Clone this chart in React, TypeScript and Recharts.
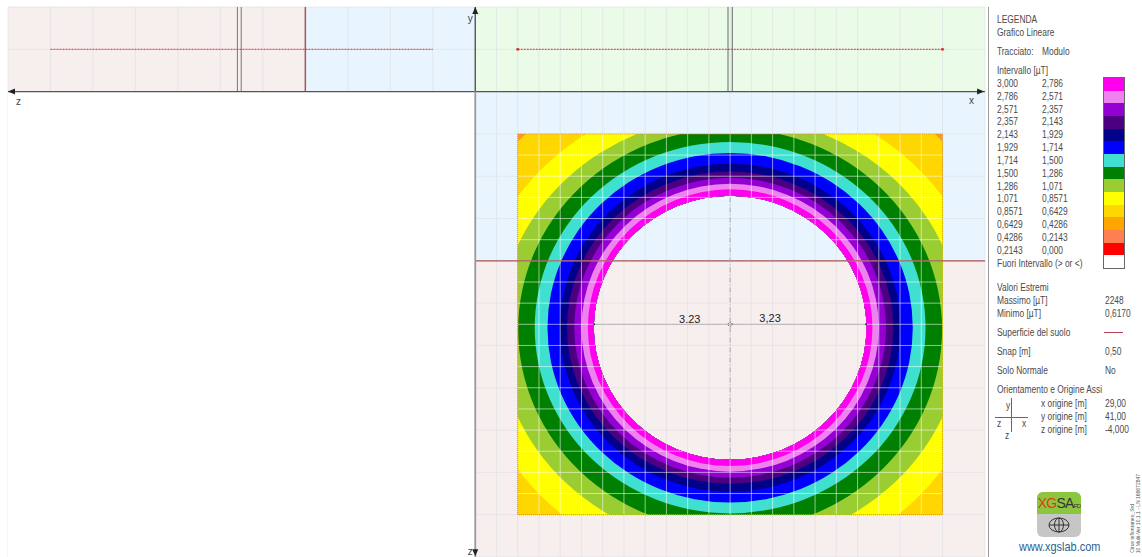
import React from 'react';
import {
  ComposedChart,
  CartesianGrid,
  Line,
  ReferenceArea,
  ReferenceDot,
  ReferenceLine,
  Scatter,
  XAxis,
  YAxis
} from 'recharts';

const CHART_W = 1142;
const CHART_H = 557;
const MARGIN = { top: 7, right: 157, bottom: 0, left: 8 };
const X_DOMAIN = [-11, 12];
const Y_DOMAIN = [-11, 2];
const PX_X = (CHART_W - MARGIN.left - MARGIN.right) / (X_DOMAIN[1] - X_DOMAIN[0]);
const PX_Y = (CHART_H - MARGIN.top - MARGIN.bottom) / (Y_DOMAIN[1] - Y_DOMAIN[0]);

// legend table, top to bottom
const rangeFrom = ['3,000', '2,786', '2,571', '2,357', '2,143', '1,929', '1,714', '1,500', '1,286', '1,071', '0,8571', '0,6429', '0,4286', '0,2143'];
const rangeTo = ['2,786', '2,571', '2,357', '2,143', '1,929', '1,714', '1,500', '1,286', '1,071', '0,8571', '0,6429', '0,4286', '0,2143', '0,000'];
const legendColors = ['#ff00ee', '#ee82ee', '#9400d3', '#4b0082', '#00008b', '#0000ff', '#40e0d0', '#008000', '#9acd32', '#ffff00', '#ffd700', '#ffa500', '#ff7f50', '#ff0000', '#ffffff'];

// contour bands (metres), same order as the legend
const bandColors = ['#ff00ee', '#ee82ee', '#9400d3', '#4b0082', '#00008b', '#0000ff', '#40e0d0', '#008000', '#9acd32', '#ffff00', '#ffd700', '#ff9a1a'];
const bandRx = [3.35, 3.5, 3.67, 3.84, 4.01, 4.3, 4.6, 4.99, 5.45, 6.08, 6.9, 7.6];
const bandRy = [3.27, 3.4, 3.54, 3.69, 3.88, 4.13, 4.39, 4.75, 5.09, 5.66, 6.55, 7.2];
const bandCy = [-5.58, -5.58, -5.58, -5.58, -5.58, -5.58, -5.58, -5.62, -5.66, -5.7, -5.7, -5.7];
const HOLE = { rx: 3.21, ry: 3.12, cy: -5.58 };
const CENTER_X = 6;

const gridArea = { x1: 1, x2: 11, y1: -10, y2: -1 };
const xTicks = [-11, -10.5, -10, -9.5, -9, -8.5, -8, -7.5, -7, -6.5, -6, -5.5, -5, -4.5, -4, -3.5, -3, -2.5, -2, -1.5, -1, -0.5, 0, 0.5, 1, 1.5, 2, 2.5, 3, 3.5, 4, 4.5, 5, 5.5, 6, 6.5, 7, 7.5, 8, 8.5, 9, 9.5, 10, 10.5, 11, 11.5, 12];
const yTicks = [-11, -10.5, -10, -9.5, -9, -8.5, -8, -7.5, -7, -6.5, -6, -5.5, -5, -4.5, -4, -3.5, -3, -2.5, -2, -1.5, -1, -0.5, 0, 0.5, 1, 1.5, 2];

const sectionLeft = [{ x: -10, y: 1 }, { x: -1, y: 1 }];
const sectionRight = [{ x: 1, y: 1 }, { x: 11, y: 1 }];

const px = (x: number) => MARGIN.left + (x - X_DOMAIN[0]) * PX_X;
const py = (y: number) => MARGIN.top + (Y_DOMAIN[1] - y) * PX_Y;

const ellipsePath = (cx: number, cy: number, rx: number, ry: number) =>
  `M${cx - rx},${cy}A${rx},${ry} 0 1 0 ${cx + rx},${cy}A${rx},${ry} 0 1 0 ${cx - rx},${cy}Z`;

const BandShape = (props: any) => {
  const { cx, cy, payload } = props;
  const holeCy = cy + (payload.y - HOLE.cy) * PX_Y;
  const d =
    ellipsePath(cx, cy, payload.rx * PX_X, payload.ry * PX_Y) +
    ellipsePath(cx, holeCy, HOLE.rx * PX_X, HOLE.ry * PX_Y);
  return <path d={d} fill={payload.color} fillRule="evenodd" clipPath="url(#contourClip)" />;
};

// white grid only over the coloured part, the hole keeps the plain grid
const RingGridLine = (props: any) => {
  const { x1, y1, x2, y2 } = props;
  return <line x1={x1} y1={y1} x2={x2} y2={y2} stroke="#fff" strokeOpacity={0.55} clipPath="url(#ringClip)" />;
};

const Arrow = (dir: 'left' | 'right' | 'up' | 'down') => (props: any) => {
  const { cx, cy } = props;
  const pts = {
    left: `${cx},${cy} ${cx + 7},${cy - 3} ${cx + 7},${cy + 3}`,
    right: `${cx},${cy} ${cx - 7},${cy - 3} ${cx - 7},${cy + 3}`,
    up: `${cx},${cy} ${cx - 3},${cy + 7} ${cx + 3},${cy + 7}`,
    down: `${cx},${cy} ${cx - 3},${cy - 7} ${cx + 3},${cy - 7}`
  }[dir];
  return <polygon points={pts} fill="#222" />;
};

const TextMark = (text: string, size = 10, color = '#444') => (props: any) => (
  <text x={props.cx} y={props.cy} textAnchor="middle" dominantBaseline="central" fontSize={size} fill={color} fontFamily="'Liberation Sans', sans-serif">
    {text}
  </text>
);

const Txt = ({ x, y, children, size = 10, color = '#4a4a4a' }: any) => (
  <div style={{ position: 'absolute', left: x, top: y - 7, fontSize: size, lineHeight: '14px', color, whiteSpace: 'nowrap', transform: 'scaleX(0.84)', transformOrigin: 'left center' }}>
    {children}
  </div>
);

const Logo = () => (
  <div style={{ position: 'absolute', left: 1037, top: 492, width: 44, height: 45, borderRadius: 6, overflow: 'hidden', background: '#c6c6c6' }}>
    <div style={{ height: 22, background: '#8cc63f', fontSize: 14, lineHeight: '23px', textAlign: 'center', color: '#333', whiteSpace: 'nowrap', letterSpacing: -0.7 }}>
      <span style={{ color: '#e03a1e' }}>XG</span>SA<span style={{ fontSize: 6 }}>FD</span>
    </div>
    <svg width={44} height={23} style={{ display: 'block' }}>
      <ellipse cx={22} cy={11} rx={10} ry={7} fill="none" stroke="#333" strokeWidth={1} />
      <ellipse cx={22} cy={11} rx={4.5} ry={7} fill="none" stroke="#333" strokeWidth={1} />
      <line x1={12} y1={11} x2={32} y2={11} stroke="#333" />
      <line x1={22} y1={4} x2={22} y2={18} stroke="#333" />
    </svg>
  </div>
);

const LegendPanel = () => (
  <div style={{ position: 'absolute', left: 0, top: 0, width: CHART_W, height: CHART_H, fontFamily: "'Liberation Sans', Arial, sans-serif", pointerEvents: 'none' }}>
    <div style={{ position: 'absolute', left: 988, top: 7, width: 1, height: 550, background: '#9a9a9a' }} />
    <Txt x={997} y={20}>LEGENDA</Txt>
    <Txt x={997} y={33}>Grafico Lineare</Txt>
    <Txt x={997} y={52}>Tracciato:</Txt>
    <Txt x={1042} y={52}>Modulo</Txt>
    <Txt x={997} y={71}>Intervallo [µT]</Txt>
    {rangeFrom.map((v, i) => (
      <React.Fragment key={v}>
        <Txt x={997} y={84 + i * 12.83}>{v}</Txt>
        <Txt x={1042} y={84 + i * 12.83}>{rangeTo[i]}</Txt>
      </React.Fragment>
    ))}
    <Txt x={997} y={264}>Fuori Intervallo (&gt; or &lt;)</Txt>
    <div style={{ position: 'absolute', left: 1103, top: 77, width: 20, border: '1px solid #666' }}>
      {legendColors.map((c, i) => (
        <div key={i} style={{ height: 12.67, background: c }} />
      ))}
    </div>

    <Txt x={997} y={288}>Valori Estremi</Txt>
    <Txt x={997} y={301}>Massimo [µT]</Txt>
    <Txt x={1105} y={301}>2248</Txt>
    <Txt x={997} y={314}>Minimo [µT]</Txt>
    <Txt x={1105} y={314}>0,6170</Txt>
    <Txt x={997} y={332.5}>Superficie del suolo</Txt>
    <div style={{ position: 'absolute', left: 1104, top: 332, width: 19, height: 1, background: '#b5404f' }} />
    <Txt x={997} y={352}>Snap [m]</Txt>
    <Txt x={1105} y={352}>0,50</Txt>
    <Txt x={997} y={371}>Solo Normale</Txt>
    <Txt x={1105} y={371}>No</Txt>
    <Txt x={997} y={390}>Orientamento e Origine Assi</Txt>
    <Txt x={1041} y={404}>x origine [m]</Txt>
    <Txt x={1105} y={404}>29,00</Txt>
    <Txt x={1041} y={417}>y origine [m]</Txt>
    <Txt x={1105} y={417}>41,00</Txt>
    <Txt x={1041} y={430}>z origine [m]</Txt>
    <Txt x={1105} y={430}>-4,000</Txt>

    <div style={{ position: 'absolute', left: 995, top: 417, width: 33, height: 1, background: '#666' }} />
    <div style={{ position: 'absolute', left: 1011, top: 398, width: 1, height: 34, background: '#666' }} />
    <Txt x={1006} y={406}>y</Txt>
    <Txt x={997} y={424}>z</Txt>
    <Txt x={1022} y={424}>x</Txt>
    <Txt x={1005} y={436}>z</Txt>

    <Logo />
    <Txt x={1019} y={547} size={13} color="#2d5f8f">www.xgslab.com</Txt>
    <div style={{ position: 'absolute', left: 1129, bottom: 4, width: 6, fontSize: 5, lineHeight: '6px', color: '#555', writingMode: 'vertical-rl', transform: 'rotate(180deg)', whiteSpace: 'nowrap' }}>
      Cirus teflonraneo_Srd
    </div>
    <div style={{ position: 'absolute', left: 1135, bottom: 4, width: 6, fontSize: 5, lineHeight: '6px', color: '#555', writingMode: 'vertical-rl', transform: 'rotate(180deg)', whiteSpace: 'nowrap' }}>
      10 Multi-Ver 10.1.1 - LN 166672847
    </div>
  </div>
);

export default function App() {
  const ringCx = px(CENTER_X);
  const ringPath =
    `M${px(gridArea.x1)},${py(gridArea.y2)}H${px(gridArea.x2)}V${py(gridArea.y1)}H${px(gridArea.x1)}Z` +
    ellipsePath(ringCx, py(HOLE.cy), HOLE.rx * PX_X, HOLE.ry * PX_Y);

  return (
    <div style={{ position: 'absolute', left: 0, top: 0, width: CHART_W, height: CHART_H, overflow: 'hidden', background: '#fff' }}>
      <ComposedChart width={CHART_W} height={CHART_H} margin={MARGIN}>
        <defs>
          <clipPath id="contourClip">
            <rect x={px(gridArea.x1)} y={py(gridArea.y2)} width={(gridArea.x2 - gridArea.x1) * PX_X} height={(gridArea.y2 - gridArea.y1) * PX_Y} />
          </clipPath>
          <clipPath id="ringClip">
            <path d={ringPath} clipRule="evenodd" />
          </clipPath>
        </defs>
        <XAxis type="number" dataKey="x" domain={X_DOMAIN} ticks={xTicks} hide allowDataOverflow />
        <YAxis type="number" dataKey="y" domain={Y_DOMAIN} ticks={yTicks} hide allowDataOverflow />

        <ReferenceArea x1={-11} x2={-4} y1={0} y2={2} fill="#f7eeee" fillOpacity={1} stroke="none" zIndex={0} />
        <ReferenceArea x1={-4} x2={0} y1={0} y2={2} fill="#e8f5fe" fillOpacity={1} stroke="none" zIndex={0} />
        <ReferenceArea x1={0} x2={12} y1={0} y2={2} fill="#eafbe8" fillOpacity={1} stroke="none" zIndex={0} />
        <ReferenceArea x1={0} x2={12} y1={-4} y2={0} fill="#e8f5fe" fillOpacity={1} stroke="none" zIndex={0} />
        <ReferenceArea x1={0} x2={12} y1={-11} y2={-4} fill="#f7eeee" fillOpacity={1} stroke="none" zIndex={0} />
        <CartesianGrid stroke="#dde1e4" strokeOpacity={0.65} zIndex={1} />
        <ReferenceArea x1={-11} x2={0} y1={-11} y2={0} fill="#ffffff" fillOpacity={1} stroke="none" zIndex={2} />

        {bandColors.map((color, i) => i).reverse().map((i) => (
          <Scatter
            key={bandColors[i]}
            data={[{ x: CENTER_X, y: bandCy[i], rx: bandRx[i], ry: bandRy[i], color: bandColors[i] }]}
            shape={BandShape}
            isAnimationActive={false}
            zIndex={3}
          />
        ))}

        {xTicks.filter((t) => t > gridArea.x1 && t < gridArea.x2).map((t) => (
          <ReferenceLine key={`wx${t}`} segment={[{ x: t, y: gridArea.y1 }, { x: t, y: gridArea.y2 }]} shape={RingGridLine} zIndex={4} />
        ))}
        {yTicks.filter((t) => t > gridArea.y1 && t < gridArea.y2).map((t) => (
          <ReferenceLine key={`wy${t}`} segment={[{ x: gridArea.x1, y: t }, { x: gridArea.x2, y: t }]} shape={RingGridLine} zIndex={4} />
        ))}

        <ReferenceArea x1={gridArea.x1} x2={gridArea.x2} y1={gridArea.y1} y2={gridArea.y2} fill="none" stroke="#e2874a" strokeWidth={1} strokeDasharray="1 1" zIndex={5} />

        <ReferenceLine segment={[{ x: 0, y: -4 }, { x: 12, y: -4 }]} stroke="#a85656" strokeWidth={1.2} zIndex={6} />
        <ReferenceLine segment={[{ x: -4, y: 0 }, { x: -4, y: 2 }]} stroke="#a85656" strokeWidth={1.5} zIndex={6} />

        <ReferenceLine segment={[{ x: -5.6, y: 0 }, { x: -5.6, y: 2 }]} stroke="#777" zIndex={6} />
        <ReferenceLine segment={[{ x: -5.51, y: 0 }, { x: -5.51, y: 2 }]} stroke="#777" zIndex={6} />
        <ReferenceLine segment={[{ x: 5.95, y: 0 }, { x: 5.95, y: 2 }]} stroke="#666" zIndex={6} />
        <ReferenceLine segment={[{ x: 6.05, y: 0 }, { x: 6.05, y: 2 }]} stroke="#666" zIndex={6} />

        <Line data={sectionLeft} dataKey="y" stroke="#dc3030" strokeWidth={1} strokeDasharray="2 1" dot={{ r: 0 }} isAnimationActive={false} zIndex={7} />
        <Line data={sectionRight} dataKey="y" stroke="#dc3030" strokeWidth={1} strokeDasharray="2 1" dot={{ r: 1.5, fill: '#d23c3c', stroke: 'none' }} isAnimationActive={false} zIndex={7} />

        <ReferenceLine segment={[{ x: CENTER_X, y: -2.5 }, { x: CENTER_X, y: -8.7 }]} stroke="#aaa" strokeDasharray="5 2 1 2" zIndex={7} />
        <ReferenceLine segment={[{ x: CENTER_X - 3.23, y: -5.5 }, { x: CENTER_X + 3.23, y: -5.5 }]} stroke="#bdbdbd" strokeWidth={1.2} zIndex={7} />
        <ReferenceDot x={CENTER_X - 3.2} y={-5.5} r={1} fill="#333" stroke="none" zIndex={8} />
        <ReferenceDot x={CENTER_X + 3.2} y={-5.5} r={1} fill="#333" stroke="none" zIndex={8} />
        <ReferenceDot x={CENTER_X - 0.95} y={-5.38} r={0} shape={TextMark('3.23', 11, '#222')} zIndex={8} />
        <ReferenceDot x={CENTER_X + 0.94} y={-5.34} r={0} shape={TextMark('3,23', 11, '#222')} zIndex={8} />
        <ReferenceDot x={CENTER_X} y={-5.5} r={2} fill="none" stroke="#555" strokeDasharray="1 1" zIndex={8} />

        <ReferenceLine segment={[{ x: -11, y: 0 }, { x: 12, y: 0 }]} stroke="#555" strokeWidth={1.4} zIndex={9} />
        <ReferenceLine segment={[{ x: 0, y: 2 }, { x: 0, y: 0 }]} stroke="#555" strokeWidth={1.4} zIndex={9} />
        <ReferenceLine segment={[{ x: 0, y: 0 }, { x: 0, y: -11 }]} stroke="#999" strokeWidth={1.8} zIndex={9} />
        <ReferenceDot x={-11} y={0} r={0} shape={Arrow('left')} zIndex={9} />
        <ReferenceDot x={11.98} y={0} r={0} shape={Arrow('right')} zIndex={9} />
        <ReferenceDot x={0} y={2} r={0} shape={Arrow('up')} zIndex={9} />
        <ReferenceDot x={0} y={-10.98} r={0} shape={Arrow('down')} zIndex={9} />
        <ReferenceDot x={-10.75} y={-0.24} r={0} shape={TextMark('z')} zIndex={9} />
        <ReferenceDot x={11.68} y={-0.22} r={0} shape={TextMark('x')} zIndex={9} />
        <ReferenceDot x={-0.12} y={1.72} r={0} shape={TextMark('y')} zIndex={9} />
        <ReferenceDot x={-0.12} y={-10.88} r={0} shape={TextMark('z')} zIndex={9} />
      </ComposedChart>
      <LegendPanel />
    </div>
  );
}
